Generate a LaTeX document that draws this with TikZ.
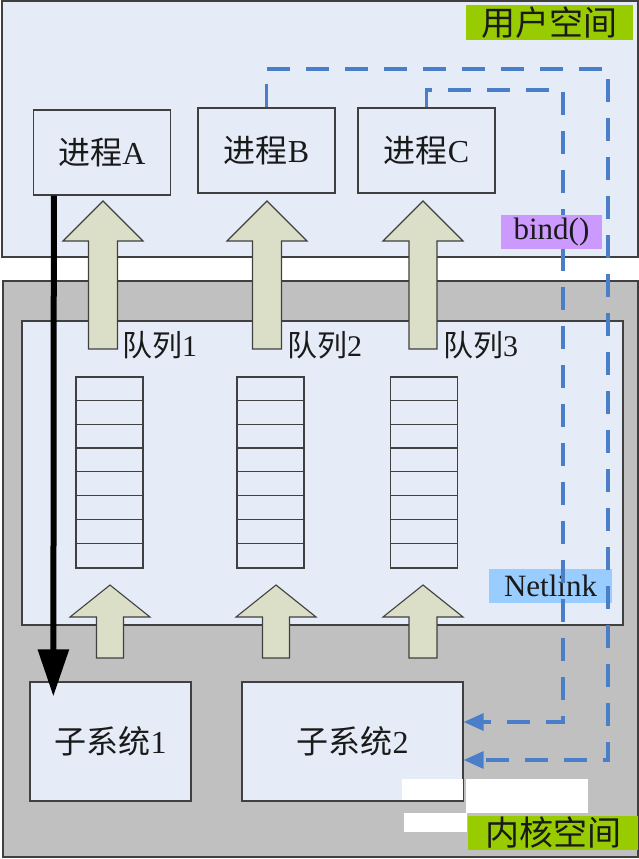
\documentclass[tikz,border=0pt]{standalone}
\usepackage{fontspec}
\setmainfont{Liberation Serif}
\newfontfamily\cjk{Noto Sans CJK SC}
\usetikzlibrary{arrows.meta,calc}
\definecolor{paneblue}{HTML}{E6ECF7}
\definecolor{kgray}{HTML}{C0C0C0}
\definecolor{edgegray}{HTML}{404040}
\definecolor{arrowfill}{HTML}{DCDFC8}
\definecolor{labgreen}{HTML}{99CC00}
\definecolor{labviolet}{HTML}{CC99FF}
\definecolor{labblue}{HTML}{99CCFF}
\definecolor{dashblue}{HTML}{4A7EC8}
\definecolor{txt}{HTML}{1A1A1A}
\newcommand\fatarrow[6]{%
  \draw[fatarr] (#1,#2) -- (#1+#5,#3) -- (#1+#6,#3) -- (#1+#6,#4) -- (#1-#6,#4)
    -- (#1-#6,#3) -- (#1-#5,#3) -- cycle;}
\begin{document}
\begin{tikzpicture}[x=1pt,y=-1pt,
  pane/.style={draw=edgegray, line width=1.3pt, fill=paneblue},
  kpane/.style={draw=edgegray, line width=1.3pt, fill=kgray},
  procbox/.style={draw=edgegray, line width=1.3pt, fill=paneblue, minimum width=137pt,
    minimum height=85pt, inner sep=0pt, font=\fontsize{32}{36}\selectfont, text=txt},
  subbox/.style={procbox, minimum height=119pt},
  qbox/.style={draw=edgegray, line width=1.3pt, minimum width=67pt, minimum height=191pt, inner sep=0pt},
  qline/.style={draw=edgegray, line width=1.2pt},
  qlabel/.style={anchor=west, inner sep=0pt, font=\fontsize{30}{34}\selectfont, text=txt},
  tag/.style={inner sep=0pt, minimum height=34pt, font=\fontsize{31}{35}\selectfont, text=txt},
  fatarr/.style={draw=edgegray, line width=1.1pt, fill=arrowfill, line join=miter},
  dashline/.style={draw=dashblue, line width=3.2pt, dash pattern=on 23pt off 16pt,
    -{Triangle[length=20pt,width=17pt]}},
  blackarrow/.style={draw=black, line width=6pt, -{Triangle[length=47pt,width=30pt]}},
  patch/.style={fill=white, draw=none}
]
\useasboundingbox (0,0) rectangle (639,859);
\fill[white] (0,0) rectangle (639,859);
% user space and kernel space panes
\path[pane] (2,1) rectangle (638,257);
\path[kpane] (3,281) rectangle (638,857);
\path[pane] (22,321) rectangle (623,625);
% processes
\node[procbox] (A) at (102,152.5) {{\cjk 进程}A};
\node[procbox] (B) at (266.5,150.5) {{\cjk 进程}B};
\node[procbox] (C) at (426.5,150.5) {{\cjk 进程}C};
% queues
\node[qbox] (q1) at (109.5,472.5) {};
\node[qbox] (q2) at (270.5,472.5) {};
\node[qbox] (q3) at (424,472.5) {};
\foreach \q in {q1,q2,q3}{
  \foreach \k in {1,...,7}{
    \draw[qline] ($(\q.north west)+(0,\k*23.875)$) -- ($(\q.north east)+(0,\k*23.875)$);
  }
}
% queue labels
\node[qlabel] (l1) at (122,345) {{\cjk 队列}1};
\node[qlabel] (l2) at (287,345) {{\cjk 队列}2};
\node[qlabel] (l3) at (443,345) {{\cjk 队列}3};
% upper fat arrows (queue -> process)
\fatarrow{103}{201}{241}{349}{40}{14.5}
\fatarrow{267}{201}{241}{349}{40}{14.5}
\fatarrow{423}{201}{241}{349}{40}{14}
% lower fat arrows (subsystem -> queue)
\fatarrow{110}{585}{617}{658}{40}{13.5}
\fatarrow{276}{585}{617}{658}{40}{13.5}
\fatarrow{423}{585}{617}{658}{40}{14}
% subsystems
\node[subbox, minimum width=161pt] (s1) at (110.5,741.5) {\cjk 子系统{\rmfamily 1}};
\node[subbox, minimum width=221pt] (s2) at (352.5,741.5) {\cjk 子系统{\rmfamily 2}};
% Netlink tag (under dashed lines)
\node[tag, fill=labblue, minimum width=123pt] (net) at (550.5,586) {Netlink};
% dashed bind connectors
\coordinate (o1) at (608,69);
\coordinate (o2) at (608,760);
\coordinate (i1) at (563,90);
\coordinate (i2) at (563,722);
\draw[dashline] (B.north) |- (o1) -- (o2) -- (s2.east |- o2);
\draw[dashline] (C.north) |- (i1) -- (i2) -- (s2.east |- i2);
% bind() tag
\node[tag, fill=labviolet, minimum width=101pt] (bind) at (551.5,232) {bind()};
% space labels
\node[tag, fill=labgreen, minimum width=167pt, minimum height=35pt, font=\fontsize{34}{38}\selectfont] (ulab) at (549.5,22.5) {\cjk 用户空间};
% black arrow from process A to subsystem 1
\draw[blackarrow] ([xshift=21pt]A.south west) -- ([xshift=24pt,yshift=-15pt]s1.north west);
% white patches
\path[patch] (402,779) rectangle (463,800);
\path[patch] (466,779) rectangle (588,813);
\path[patch] (404,813) rectangle (467,832);
\node[tag, fill=labgreen, minimum width=170pt, font=\fontsize{34}{38}\selectfont] (klab) at (553,833) {\cjk 内核空间};
\end{tikzpicture}
\end{document}
